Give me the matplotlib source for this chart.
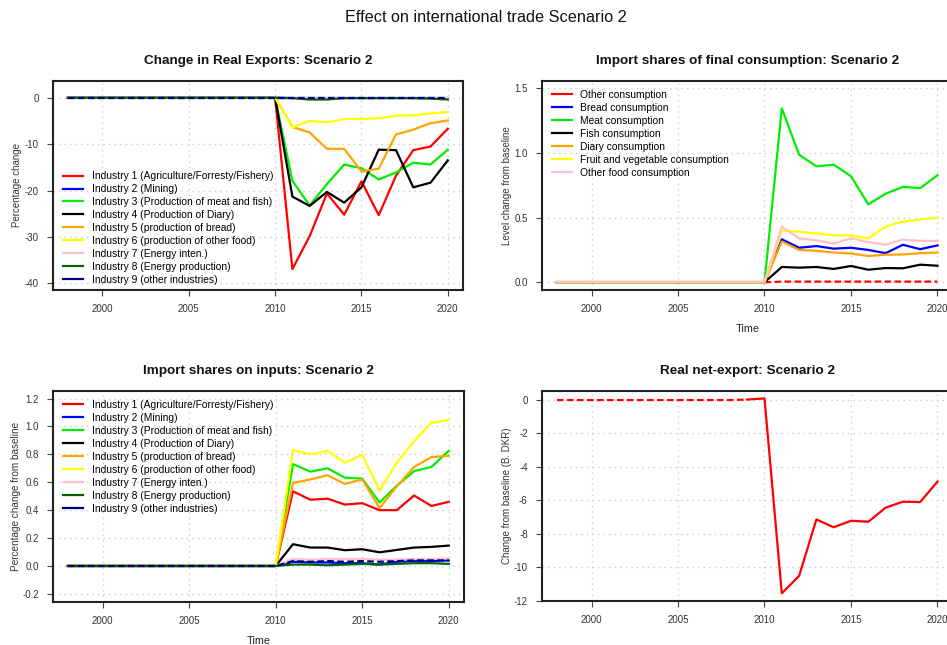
import matplotlib
matplotlib.use("Agg")
import matplotlib.pyplot as plt

plt.rcParams['font.family'] = ['Liberation Sans', 'DejaVu Sans']

years = [1998, 1999, 2000, 2001, 2002, 2003, 2004, 2005, 2006, 2007, 2008, 2009,
         2010, 2011, 2012, 2013, 2014, 2015, 2016, 2017, 2018, 2019, 2020]

# ---- Panel 1: Change in Real Exports (percentage change) ----
exp_labels = ["Industry 1 (Agriculture/Forresty/Fishery)", "Industry 2 (Mining)",
              "Industry 3 (Production of meat and fish)", "Industry 4 (Production of Diary)",
              "Industry 5 (production of bread)", "Industry 6 (production of other food)",
              "Industry 7 (Energy inten.)", "Industry 8 (Energy production)",
              "Industry 9 (other industries)"]
exp_ind1 = [0, 0, 0, 0, 0, 0, 0, 0, 0, 0, 0, 0, 0, -36.9, -29.8, -20.6, -25.2, -18.0, -25.3, -16.8, -11.3, -10.5, -6.7]
exp_ind2 = [0, 0, 0, 0, 0, 0, 0, 0, 0, 0, 0, 0, 0, 0, 0, 0, 0, 0, 0, 0, 0, 0, 0]
exp_ind3 = [0, 0, 0, 0, 0, 0, 0, 0, 0, 0, 0, 0, 0, -17.9, -23.2, -18.6, -14.4, -15.2, -17.6, -16.1, -14.0, -14.4, -11.2]
exp_ind4 = [0, 0, 0, 0, 0, 0, 0, 0, 0, 0, 0, 0, 0, -21.3, -23.3, -20.3, -22.6, -19.3, -11.2, -11.3, -19.3, -18.3, -13.5]
exp_ind5 = [0, 0, 0, 0, 0, 0, 0, 0, 0, 0, 0, 0, 0, -6.3, -7.5, -11.0, -11.0, -15.9, -15.3, -7.9, -6.9, -5.5, -4.9]
exp_ind6 = [0, 0, 0, 0, 0, 0, 0, 0, 0, 0, 0, 0, 0, -6.4, -5.0, -5.3, -4.6, -4.6, -4.4, -3.9, -3.8, -3.4, -3.1]
exp_ind7 = [0, 0, 0, 0, 0, 0, 0, 0, 0, 0, 0, 0, 0, -0.1, -0.1, -0.1, -0.1, -0.1, -0.1, -0.1, -0.1, -0.1, -0.1]
exp_ind8 = [0, 0, 0, 0, 0, 0, 0, 0, 0, 0, 0, 0, 0, -0.1, -0.4, -0.4, -0.1, -0.1, -0.1, -0.1, -0.1, -0.2, -0.4]
exp_ind9 = [0, 0, 0, 0, 0, 0, 0, 0, 0, 0, 0, 0, 0, 0, 0, 0, 0, 0, 0, 0, 0, 0, 0]

# ---- Panel 2: Import shares of final consumption ----
cons_labels = ["Other consumption", "Bread consumption", "Meat consumption", "Fish consumption",
               "Diary consumption", "Fruit and vegetable consumption", "Other food consumption"]
cons_other = [0, 0, 0, 0, 0, 0, 0, 0, 0, 0, 0, 0, 0, 0.005, 0.005, 0.005, 0.005, 0.005, 0.005, 0.005, 0.005, 0.005, 0.005]
cons_bread = [0, 0, 0, 0, 0, 0, 0, 0, 0, 0, 0, 0, 0, 0.333, 0.267, 0.28, 0.26, 0.267, 0.25, 0.225, 0.29, 0.256, 0.285]
cons_meat = [0, 0, 0, 0, 0, 0, 0, 0, 0, 0, 0, 0, 0, 1.346, 0.987, 0.897, 0.91, 0.82, 0.603, 0.685, 0.738, 0.728, 0.828]
cons_fish = [0, 0, 0, 0, 0, 0, 0, 0, 0, 0, 0, 0, 0, 0.118, 0.113, 0.118, 0.103, 0.126, 0.097, 0.11, 0.108, 0.136, 0.128]
cons_diary = [0, 0, 0, 0, 0, 0, 0, 0, 0, 0, 0, 0, 0, 0.315, 0.25, 0.243, 0.23, 0.223, 0.203, 0.213, 0.215, 0.225, 0.23]
cons_fruit = [0, 0, 0, 0, 0, 0, 0, 0, 0, 0, 0, 0, 0, 0.40, 0.39, 0.377, 0.364, 0.36, 0.34, 0.43, 0.47, 0.485, 0.50]
cons_food = [0, 0, 0, 0, 0, 0, 0, 0, 0, 0, 0, 0, 0, 0.43, 0.34, 0.325, 0.30, 0.34, 0.31, 0.29, 0.33, 0.32, 0.32]

# ---- Panel 3: Import shares on inputs ----
inp_ind1 = [0, 0, 0, 0, 0, 0, 0, 0, 0, 0, 0, 0, 0, 0.535, 0.475, 0.482, 0.44, 0.45, 0.40, 0.40, 0.505, 0.43, 0.46]
inp_ind2 = [0, 0, 0, 0, 0, 0, 0, 0, 0, 0, 0, 0, 0, 0.03, 0.025, 0.025, 0.02, 0.02, 0.01, 0.03, 0.035, 0.035, 0.04]
inp_ind3 = [0, 0, 0, 0, 0, 0, 0, 0, 0, 0, 0, 0, 0, 0.73, 0.676, 0.70, 0.633, 0.626, 0.455, 0.575, 0.68, 0.71, 0.825]
inp_ind4 = [0, 0, 0, 0, 0, 0, 0, 0, 0, 0, 0, 0, 0, 0.156, 0.132, 0.132, 0.113, 0.12, 0.098, 0.115, 0.132, 0.137, 0.146]
inp_ind5 = [0, 0, 0, 0, 0, 0, 0, 0, 0, 0, 0, 0, 0, 0.595, 0.62, 0.65, 0.588, 0.62, 0.415, 0.57, 0.71, 0.78, 0.79]
inp_ind6 = [0, 0, 0, 0, 0, 0, 0, 0, 0, 0, 0, 0, 0, 0.83, 0.80, 0.825, 0.74, 0.796, 0.54, 0.74, 0.895, 1.026, 1.046]
inp_ind7 = [0, 0, 0, 0, 0, 0, 0, 0, 0, 0, 0, 0, 0, 0.05, 0.045, 0.05, 0.05, 0.05, 0.045, 0.045, 0.05, 0.05, 0.055]
inp_ind8 = [0, 0, 0, 0, 0, 0, 0, 0, 0, 0, 0, 0, 0, 0.01, 0.01, 0.005, 0.01, 0.015, 0.01, 0.015, 0.02, 0.02, 0.015]
inp_ind9 = [0, 0, 0, 0, 0, 0, 0, 0, 0, 0, 0, 0, 0, 0.035, 0.03, 0.035, 0.03, 0.035, 0.03, 0.035, 0.04, 0.04, 0.04]

# ---- Panel 4: Real net-export (B. DKR) ----
net_export = [0, 0, 0, 0, 0, 0, 0, 0, 0, 0, 0, 0.03, 0.1, -11.56, -10.52, -7.14, -7.61, -7.22, -7.28, -6.44, -6.08, -6.1, -4.88]
net_baseline_years = [1998, 2020.9]
net_baseline = [-12, -12]

ind_colors = ["red", "blue", "#00ee00", "black", "orange", "yellow", "pink", "darkgreen", "navy"]
cons_colors = ["red", "blue", "#00ee00", "black", "orange", "yellow", "pink"]

W, H = 947, 645
fig = plt.figure(figsize=(W / 100, H / 100), dpi=100)
fig.text(486 / W, 1 - 18 / H, "Effect on international trade Scenario 2", ha="center", va="center",
         fontsize=11.7, color="#111111")

def px_axes(left, top, right, bottom):
    return fig.add_axes([left / W, 1 - bottom / H, (right - left) / W, (bottom - top) / H])

LW = 1.6
XL = (1997.12, 2020.88)
DASH = (0, (3, 1.5))

def style(ax, title, yticks, yticklabels, ylim, ylabel, xlabel, ylab_x, ylab_fs):
    ax.set_xlim(*XL)
    ax.set_ylim(*ylim)
    ax.set_xticks([2000, 2005, 2010, 2015, 2020])
    ax.set_yticks(yticks)
    ax.set_yticklabels(yticklabels)
    ax.grid(True, color="#cccccc", linestyle=(0, (1, 3)), linewidth=1.0)
    ax.set_axisbelow(True)
    for s in ax.spines.values():
        s.set_linewidth(1.5)
        s.set_color("#222222")
    ax.tick_params(direction="out", length=4, width=0.8, color="#444444",
                   labelsize=7, labelcolor="#333333", pad=6)
    ax.set_title(title, fontsize=9.7, fontweight="bold", pad=12, color="#111111")
    ax.set_ylabel(ylabel, fontsize=ylab_fs, color="#333333")
    ax.yaxis.set_label_coords(ylab_x, 0.5)
    if xlabel:
        ax.set_xlabel(xlabel, fontsize=7.8, color="#222222")
        ax.xaxis.set_label_coords(0.5, -0.162)

def add_legend(ax, x, y):
    ax.legend(loc="upper left", bbox_to_anchor=(x, y), frameon=False, fontsize=7.4,
              handlelength=1.95, handletextpad=0.85, labelspacing=0.29, borderpad=0,
              borderaxespad=0)
    for line in ax.get_legend().get_lines():
        line.set_linestyle("-")

# Panel 1
ax1 = px_axes(52.7, 80.7, 463, 290)
exp_series = [exp_ind1, exp_ind2, exp_ind3, exp_ind4, exp_ind5, exp_ind6, exp_ind7, exp_ind8, exp_ind9]
for i, (s, c, lab) in enumerate(zip(exp_series, ind_colors, exp_labels)):
    ax1.plot(years, s, color=c, lw=LW, ls=DASH if i == 8 else "-", label=lab)
style(ax1, "Change in Real Exports: Scenario 2", [0, -10, -20, -30, -40],
      ["0", "-10", "-20", "-30", "-40"], (-41.4, 3.65), "Percentage change", None, -0.076, 7.0)
add_legend(ax1, 0.025, 0.568)

# Panel 2
ax2 = px_axes(541.7, 80.7, 952.7, 290)
cons_series = [cons_other, cons_bread, cons_meat, cons_fish, cons_diary, cons_fruit, cons_food]
for i, (s, c, lab) in enumerate(zip(cons_series, cons_colors, cons_labels)):
    if i == 0:
        ax2.plot(years[12:], s[12:], color=c, lw=LW, ls=DASH)
        ax2.plot(years[:13], s[:13], color=c, lw=LW, label=lab)
    else:
        ax2.plot(years, s, color=c, lw=LW, label=lab)
style(ax2, "Import shares of final consumption: Scenario 2", [0.0, 0.5, 1.0, 1.5],
      ["0.0", "0.5", "1.0", "1.5"], (-0.06, 1.56), "Level change from baseline", "Time", -0.073, 7.0)
add_legend(ax2, 0.024, 0.956)

# Panel 3
ax3 = px_axes(52.7, 390.7, 464, 601.7)
inp_series = [inp_ind1, inp_ind2, inp_ind3, inp_ind4, inp_ind5, inp_ind6, inp_ind7, inp_ind8, inp_ind9]
for i, (s, c, lab) in enumerate(zip(inp_series, ind_colors, exp_labels)):
    ax3.plot(years, s, color=c, lw=LW, ls=DASH if i == 8 else "-", label=lab)
style(ax3, "Import shares on inputs: Scenario 2", [-0.2, 0.0, 0.2, 0.4, 0.6, 0.8, 1.0, 1.2],
      ["-0.2", "0.0", "0.2", "0.4", "0.6", "0.8", "1.0", "1.2"], (-0.256, 1.256),
      "Percentage change from baseline", "Time", -0.076, 7.2)
add_legend(ax3, 0.025, 0.956)

# Panel 4
ax4 = px_axes(541.7, 390.7, 952.7, 601)
ax4.plot(years[:12], net_export[:12], color="red", lw=LW, ls=DASH)
ax4.plot(years[11:], net_export[11:], color="red", lw=LW)
ax4.plot(net_baseline_years, net_baseline, color="#222222", lw=1.4, ls=DASH, clip_on=False)
style(ax4, "Real net-export: Scenario 2", [0, -2, -4, -6, -8, -10, -12],
      ["0", "-2", "-4", "-6", "-8", "-10", "-12"], (-12.02, 0.56),
      "Change from baseline (B. DKR)", None, -0.073, 7.0)

fig.savefig("out.png", dpi=100)
